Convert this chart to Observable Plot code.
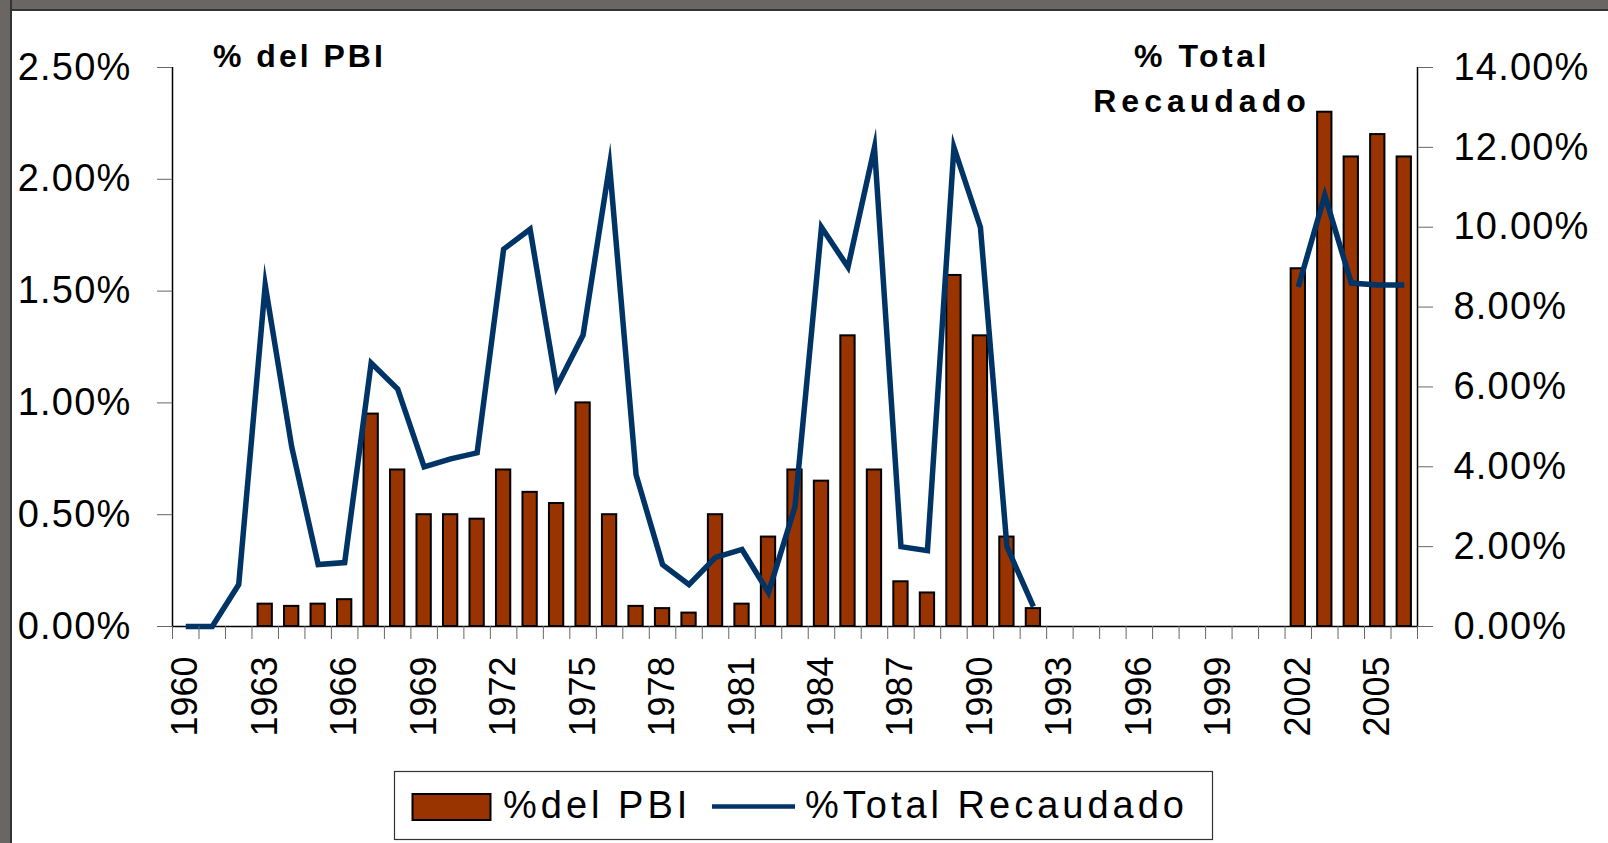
<!DOCTYPE html>
<html><head><meta charset="utf-8">
<script src="https://cdn.jsdelivr.net/npm/d3@7"></script>
<script src="https://cdn.jsdelivr.net/npm/@observablehq/plot@0.6"></script>
<style>
html,body{margin:0;padding:0;background:#fff;overflow:hidden}
#page{position:relative;width:1608px;height:843px;background:#fff;font-family:"Liberation Sans",Arial,sans-serif}
#frameTop{position:absolute;left:0;top:0;width:1608px;height:9px;background:#6a6664;border-bottom:2px solid #333}
#frameLeft{position:absolute;left:0;top:0;width:10px;height:843px;background:#6a6664;border-right:2px solid #333}
#chart{position:absolute;left:0;top:0}
#overlay{position:absolute;left:0;top:0}
#chart g[aria-label="y-axis tick label"] text{letter-spacing:1.2px}
</style></head><body>
<div id="page"><div id="chart"></div><svg id="overlay" width="1608" height="843" xmlns="http://www.w3.org/2000/svg"></svg><div id="frameTop"></div><div id="frameLeft"></div></div>
<script>
// ---- data ----
const years = [1960,1961,1962,1963,1964,1965,1966,1967,1968,1969,1970,1971,1972,1973,1974,1975,1976,1977,1978,1979,1980,1981,1982,1983,1984,1985,1986,1987,1988,1989,1990,1991,1992,1993,1994,1995,1996,1997,1998,1999,2000,2001,2002,2003,2004,2005,2006];
// % del PBI (left axis)
const pbi = [null,null,null,0.10,0.09,0.10,0.12,0.95,0.70,0.50,0.50,0.48,0.70,0.60,0.55,1.00,0.50,0.09,0.08,0.06,0.50,0.10,0.40,0.70,0.65,1.30,0.70,0.20,0.15,1.57,1.30,0.40,0.08,null,null,null,null,null,null,null,null,null,1.60,2.30,2.10,2.20,2.10];
// % Total Recaudado (right axis)
const recaudado = [0,0,1.05,8.55,4.5,1.55,1.6,6.6,5.95,4.0,4.2,4.35,9.45,9.95,6.0,7.3,11.55,3.8,1.55,1.05,1.73,1.93,0.85,3.0,10.0,9.0,12.0,2.0,1.9,12.0,10.0,2.0,0.5,null,null,null,null,null,null,null,null,null,8.5,10.8,8.6,8.55,8.55];
const leftTicks = [0,0.5,1.0,1.5,2.0,2.5];
const rightTicks = [0,2,4,6,8,10,12,14];
const labelYears = [1960,1963,1966,1969,1972,1975,1978,1981,1984,1987,1990,1993,1996,1999,2002,2005];
const seriesNames = ["%del PBI","%Total Recaudado"];
const axisTitles = ["% del PBI","% Total","Recaudado"];

// ---- chart ----
const W = 1608, H = 760;
const ratio = 2.5 / 14;
const rows = years.map((y, i) => ({year: y, pbi: pbi[i], rec: recaudado[i]}));
const boundaries = years.map(y => y - 0.5).concat([years[years.length - 1] + 0.5]);

const chart = Plot.plot({
  width: W, height: H,
  marginLeft: 172, marginRight: 191, marginTop: 67, marginBottom: H - 626,
  x: {type: "linear", domain: [boundaries[0], boundaries[boundaries.length - 1]]},
  y: {domain: [0, 2.5]},
  style: {fontFamily: "'Liberation Sans', Arial, sans-serif", background: "transparent", color: "#000"},
  marks: [
    Plot.rectY(rows.filter(d => d.pbi != null), {x1: d => d.year - 0.27, x2: d => d.year + 0.27, y1: 0, y2: "pbi", fill: "#993300", stroke: "#000", strokeWidth: 2}),
    Plot.ruleY([0], {stroke: "#000", strokeWidth: 1.5}),
    Plot.line(rows, {x: "year", y: d => d.rec == null ? NaN : d.rec * ratio, stroke: "#003366", strokeWidth: 5.5, strokeLinejoin: "miter", strokeLinecap: "butt", strokeMiterlimit: 20}),
    Plot.ruleX([boundaries[0], boundaries[boundaries.length - 1]], {stroke: "#000", strokeWidth: 1.5}),
    Plot.axisY(leftTicks, {anchor: "left", tickSize: 15, tickPadding: 26, tickFormat: d => d.toFixed(2) + "%", fontSize: 38, stroke: "#666", label: null}),
    Plot.axisY(rightTicks.map(v => v * ratio), {anchor: "right", tickSize: 15, tickPadding: 21, tickFormat: d => (d / ratio).toFixed(2) + "%", fontSize: 38, stroke: "#666", label: null}),
    Plot.axisX(boundaries, {anchor: "bottom", tickSize: 13, tickFormat: () => "", stroke: "#666", label: null}),
    Plot.axisX(labelYears, {anchor: "bottom", tickSize: 0, tickPadding: 30, tickRotate: -90, tickFormat: d => String(d), fontSize: 36, label: null})
  ]
});
document.getElementById("chart").appendChild(chart);

// ---- titles and legend ----
const ov = d3.select("#overlay").style("font-family", "'Liberation Sans', Arial, sans-serif");
ov.append("text").attr("x", 213).attr("y", 67).attr("font-size", 32).attr("font-weight", "bold").attr("letter-spacing", 3).text(axisTitles[0]);
ov.append("text").attr("x", 1202).attr("y", 67).attr("text-anchor", "middle").attr("font-size", 32).attr("font-weight", "bold").attr("letter-spacing", 3.5).text(axisTitles[1]);
ov.append("text").attr("x", 1202).attr("y", 112).attr("text-anchor", "middle").attr("font-size", 32).attr("font-weight", "bold").attr("letter-spacing", 5).text(axisTitles[2]);

ov.append("rect").attr("x", 394.5).attr("y", 771.5).attr("width", 818).attr("height", 68).attr("fill", "#fff").attr("stroke", "#333").attr("stroke-width", 1.2);
ov.append("rect").attr("x", 412.5).attr("y", 794).attr("width", 78).attr("height", 26).attr("fill", "#993300").attr("stroke", "#000").attr("stroke-width", 2);
ov.append("text").attr("x", 503).attr("y", 818).attr("font-size", 38).attr("letter-spacing", 4).text(seriesNames[0]);
ov.append("line").attr("x1", 712).attr("x2", 795).attr("y1", 806.5).attr("y2", 806.5).attr("stroke", "#003366").attr("stroke-width", 4.5);
ov.append("text").attr("x", 805).attr("y", 818).attr("font-size", 38).attr("letter-spacing", 4).text(seriesNames[1]);
</script>
</body></html>
